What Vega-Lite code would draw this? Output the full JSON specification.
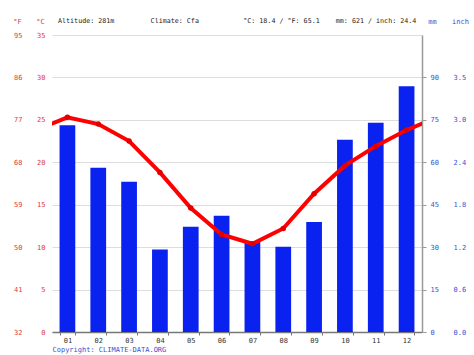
{
  "$schema": "https://vega.github.io/schema/vega-lite/v6.json",
  "width": 370,
  "height": 297,
  "autosize": "none",
  "padding": {"left": 52, "top": 35, "right": 52, "bottom": 23},
  "background": "white",
  "config": {
    "view": {"stroke": null},
    "font": "DejaVu Sans Mono",
    "axis": {"labelFont": "DejaVu Sans Mono", "titleFont": "DejaVu Sans Mono", "labelFontSize": 7, "titleFontSize": 7, "titleFontWeight": "normal"}
  },
  "title": {
    "text": "Altitude: 281m\u00a0\u00a0\u00a0\u00a0\u00a0\u00a0\u00a0\u00a0\u00a0Climate: Cfa\u00a0\u00a0\u00a0\u00a0\u00a0\u00a0\u00a0\u00a0\u00a0\u00a0\u00a0°C: 18.4 / °F: 65.1\u00a0\u00a0\u00a0\u00a0mm: 621 / inch: 24.4",
    "anchor": "start",
    "frame": "group",
    "dx": 6,
    "offset": -8,
    "font": "DejaVu Sans Mono",
    "fontSize": 6.7,
    "fontWeight": "normal",
    "color": "#222222"
  },
  "datasets": {
    "months": [
      {"month": "01", "m": 1, "temp": 25.3, "precip": 73.1},
      {"month": "02", "m": 2, "temp": 24.5, "precip": 58.1},
      {"month": "03", "m": 3, "temp": 22.5, "precip": 53.1},
      {"month": "04", "m": 4, "temp": 18.8, "precip": 29.2},
      {"month": "05", "m": 5, "temp": 14.6, "precip": 37.2},
      {"month": "06", "m": 6, "temp": 11.5, "precip": 41.1},
      {"month": "07", "m": 7, "temp": 10.4, "precip": 31.9},
      {"month": "08", "m": 8, "temp": 12.2, "precip": 30.1},
      {"month": "09", "m": 9, "temp": 16.3, "precip": 38.9},
      {"month": "10", "m": 10, "temp": 19.6, "precip": 68.0},
      {"month": "11", "m": 11, "temp": 21.9, "precip": 74.0},
      {"month": "12", "m": 12, "temp": 23.8, "precip": 86.9}
    ],
    "line": [
      {"m": 0, "temp": 23.8},
      {"m": 1, "temp": 25.3},
      {"m": 2, "temp": 24.5},
      {"m": 3, "temp": 22.5},
      {"m": 4, "temp": 18.8},
      {"m": 5, "temp": 14.6},
      {"m": 6, "temp": 11.5},
      {"m": 7, "temp": 10.4},
      {"m": 8, "temp": 12.2},
      {"m": 9, "temp": 16.3},
      {"m": 10, "temp": 19.6},
      {"m": 11, "temp": 21.9},
      {"m": 12, "temp": 23.8},
      {"m": 13, "temp": 25.3}
    ]
  },
  "layer": [
    {
      "data": {"name": "months"},
      "mark": {"type": "bar", "color": "#0a22f0"},
      "encoding": {
        "x": {
          "field": "month", "type": "ordinal",
          "scale": {"paddingInner": 0.49, "paddingOuter": 0.245},
          "axis": {
            "tickBand": "extent", "labelAngle": 0, "labelColor": "#333333",
            "domainColor": "#777777", "domainWidth": 1.5, "tickColor": "#777777", "tickSize": 3, "labelPadding": 1,
            "title": "Copyright: CLIMATE-DATA.ORG", "titleAnchor": "start", "titleAlign": "left",
            "titleColor": "#3a4fd0", "titlePadding": 2
          }
        },
        "y": {
          "field": "precip", "type": "quantitative",
          "scale": {"domain": [0, 105], "nice": false},
          "axis": {
            "orient": "right", "values": [0, 15, 30, 45, 60, 75, 90], "grid": false,
            "labelColor": "#3a4fd0", "domainColor": "#999999", "domainWidth": 1.5, "tickColor": "#999999", "tickSize": 4, "labelPadding": 4,
            "title": "mm", "titleColor": "#3a4fd0", "titleAngle": 0, "titleX": 10, "titleY": -14, "titleAlign": "center", "titleBaseline": "middle"
          }
        }
      }
    },
    {
      "data": {"name": "line"},
      "mark": {"type": "line", "color": "#ff0000", "strokeWidth": 4, "clip": true},
      "encoding": {
        "x": {"field": "m", "type": "quantitative", "scale": {"domain": [0.5, 12.5], "nice": false, "zero": false}, "axis": null},
        "y": {
          "field": "temp", "type": "quantitative",
          "scale": {"domain": [0, 35], "nice": false},
          "axis": {
            "orient": "left", "values": [0, 5, 10, 15, 20, 25, 30, 35], "grid": true, "gridColor": "#dddddd",
            "domain": false, "ticks": false, "tickSize": 0, "labelPadding": 7, "labelColor": "#e0393e",
            "title": "°C", "titleColor": "#e0393e", "titleAngle": 0, "titleX": -12, "titleY": -14, "titleAlign": "center", "titleBaseline": "middle"
          }
        }
      }
    },
    {
      "data": {"name": "months"},
      "mark": {"type": "point", "filled": true, "color": "#e00000", "size": 30, "opacity": 1},
      "encoding": {
        "x": {"field": "month", "type": "ordinal", "scale": {"paddingInner": 0.49, "paddingOuter": 0.245}, "axis": null},
        "y": {
          "field": "temp", "type": "quantitative",
          "scale": {"domain": [0, 35], "nice": false},
          "axis": {
            "orient": "left", "offset": 23, "values": [0, 5, 10, 15, 20, 25, 30, 35], "grid": false,
            "labelExpr": "format(datum.value * 9 / 5 + 32, 'd')",
            "domain": false, "ticks": false, "tickSize": 0, "labelPadding": 7, "labelColor": "#e0393e",
            "title": "°F", "titleColor": "#e0393e", "titleAngle": 0, "titleX": -12, "titleY": -14, "titleAlign": "center", "titleBaseline": "middle"
          }
        }
      }
    },
    {
      "data": {"name": "months"},
      "mark": {"type": "point", "opacity": 0},
      "encoding": {
        "x": {"field": "month", "type": "ordinal", "scale": {"paddingInner": 0.49, "paddingOuter": 0.245}, "axis": null},
        "y": {
          "field": "precip", "type": "quantitative",
          "scale": {"domain": [0, 105], "nice": false},
          "axis": {
            "orient": "right", "offset": 23, "values": [0, 15, 30, 45, 60, 75, 90], "grid": false,
            "labelExpr": "format(datum.value / 25.4, '.1f')",
            "domain": false, "ticks": false, "tickSize": 0, "labelPadding": 8, "labelColor": "#3a4fd0",
            "title": "inch", "titleColor": "#3a4fd0", "titleAngle": 0, "titleX": 15, "titleY": -14, "titleAlign": "center", "titleBaseline": "middle"
          }
        }
      }
    }
  ],
  "resolve": {
    "scale": {"x": "independent", "y": "independent"},
    "axis": {"x": "independent", "y": "independent"}
  }
}
